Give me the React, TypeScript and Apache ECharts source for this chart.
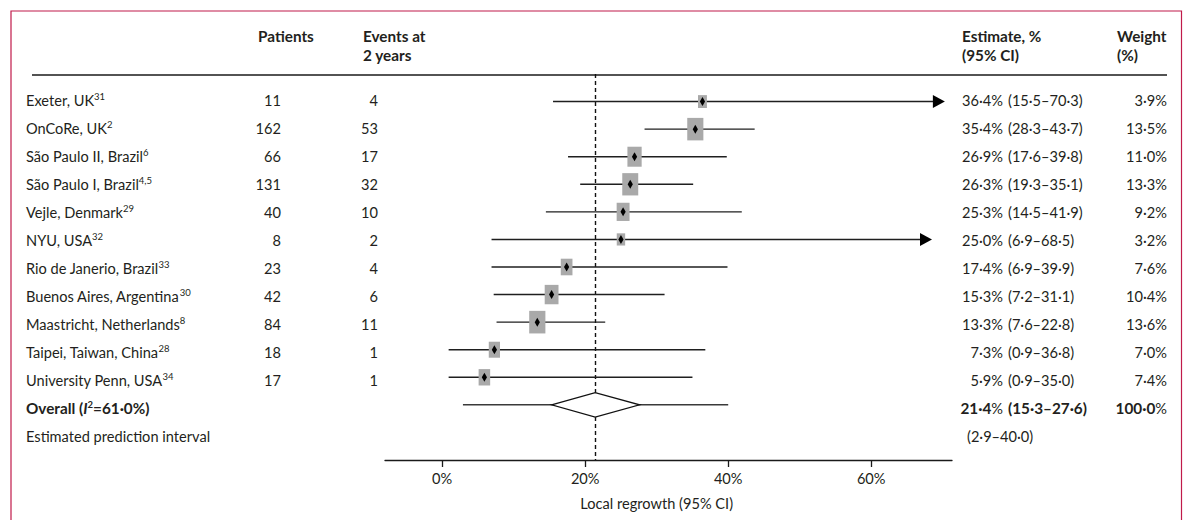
import React, { useEffect, useRef } from "react";
import * as echarts from "echarts";

// ---------- data ----------
const studies = [
  "Exeter, UK",
  "OnCoRe, UK",
  "São Paulo II, Brazil",
  "São Paulo I, Brazil",
  "Vejle, Denmark",
  "NYU, USA",
  "Rio de Janerio, Brazil",
  "Buenos Aires, Argentina",
  "Maastricht, Netherlands",
  "Taipei, Taiwan, China",
  "University Penn, USA",
];
const refs = ["31", "2", "6", "4,5", "29", "32", "33", "30", "8", "28", "34"];
const patients = [11, 162, 66, 131, 40, 8, 23, 42, 84, 18, 17];
const events = [4, 53, 17, 32, 10, 2, 4, 6, 11, 1, 1];
const estimates = [36.4, 35.4, 26.9, 26.3, 25.3, 25.0, 17.4, 15.3, 13.3, 7.3, 5.9];
const ciLow = [15.5, 28.3, 17.6, 19.3, 14.5, 6.9, 6.9, 7.2, 7.6, 0.9, 0.9];
const ciHigh = [70.3, 43.7, 39.8, 35.1, 41.9, 68.5, 39.9, 31.1, 22.8, 36.8, 35.0];
const weights = [3.9, 13.5, 11.0, 13.3, 9.2, 3.2, 7.6, 10.4, 13.6, 7.0, 7.4];
const truncated = [true, false, false, false, false, true, false, false, false, false, false];
const overall = [21.4, 15.3, 27.6]; // estimate, low, high
const overallWeight = 100.0;
const predictionInterval = [2.9, 40.0];
const iSquared = 61.0;
const xTicks = [0, 20, 40, 60];

// ---------- layout ----------
const W = 1186;
const H = 520;
const FONT = "Lato, 'Open Sans', sans-serif";
const TXT = "#231f20";
const FS = 14.6;
const FSB = 15.3;
const X_MIN = -8;
const X_MAX = 71.3;
const GRID = { left: 385, right: 234, top: 74, bottom: 60 };
const rowY = (i: number) => 100 + 28 * i;
const xPix = (v: number) =>
  GRID.left + ((v - X_MIN) / (X_MAX - X_MIN)) * (W - GRID.left - GRID.right);
const fmt = (v: number) => v.toFixed(1).replace(".", "·");

const RICH: any = {
  n: { fontFamily: FONT, fontSize: FS, lineHeight: 18 },
  b: { fontFamily: FONT, fontSize: FSB, lineHeight: 18, fontWeight: "bold" },
  bi: { fontFamily: FONT, fontSize: FSB, lineHeight: 18, fontWeight: "bold", fontStyle: "italic" },
  s: { fontFamily: FONT, fontSize: 9.5, lineHeight: 12, verticalAlign: "top" },
  bs: { fontFamily: FONT, fontSize: 9.5, lineHeight: 12, verticalAlign: "top", fontWeight: "bold" },
};

function txt(x: number, y: number, text: string, align = "left", bold = false, rich = false) {
  const style: any = {
    text,
    x: 0,
    y: 0,
    fill: TXT,
    fontFamily: FONT,
    fontSize: bold ? FSB : FS,
    fontWeight: bold ? "bold" : "normal",
    align,
    verticalAlign: "middle",
  };
  if (rich) style.rich = RICH;
  return { type: "text", x, y, silent: true, z: 10, style };
}

function buildGraphics() {
  const g: any[] = [];
  // frame
  g.push({
    type: "polyline",
    silent: true,
    shape: { points: [[11, H], [11, 11], [1181.5, 11], [1181.5, H]] },
    style: { stroke: "#c01a4a", lineWidth: 1.2, fill: "none" },
  });
  // header rule
  g.push({
    type: "line",
    silent: true,
    shape: { x1: 32, y1: 75, x2: 1167, y2: 75 },
    style: { stroke: "#1a1a1a", lineWidth: 1.3 },
  });
  // headers
  g.push(txt(258, 36, "Patients", "left", true));
  g.push(txt(363, 36, "Events at", "left", true));
  g.push(txt(363, 55, "2 years", "left", true));
  g.push(txt(962, 36, "Estimate, %", "left", true));
  g.push(txt(962, 55, "(95% CI)", "left", true));
  g.push(txt(1117, 36, "Weight", "left", true));
  g.push(txt(1117, 55, "(%)", "left", true));
  // study rows
  studies.forEach((s, i) => {
    const y = rowY(i);
    g.push(txt(26, y, `{n|${s}}{s|${refs[i]}}`, "left", false, true));
    g.push(txt(281, y, String(patients[i]), "right"));
    g.push(txt(378, y, String(events[i]), "right"));
    g.push(txt(1003, y, `${fmt(estimates[i])}%`, "right"));
    g.push(txt(1008, y, `(${fmt(ciLow[i])}–${fmt(ciHigh[i])})`, "left"));
    g.push(txt(1167, y, `${fmt(weights[i])}%`, "right"));
  });
  // overall
  const yo = rowY(studies.length);
  g.push(txt(26, yo, `{b|Overall (}{bi|I}{bs|2}{b|=${fmt(iSquared)}%)}`, "left", true, true));
  g.push(txt(1003, yo, `{b|${fmt(overall[0])}}{n|%}`, "right", true, true));
  g.push(txt(1008, yo, `(${fmt(overall[1])}–${fmt(overall[2])})`, "left", true));
  g.push(txt(1167, yo, `{b|${fmt(overallWeight)}}{n|%}`, "right", true, true));
  // prediction interval
  const yp = rowY(studies.length + 1);
  g.push(txt(26, yp, "Estimated prediction interval", "left"));
  g.push(txt(967, yp, `(${fmt(predictionInterval[0])}–${fmt(predictionInterval[1])})`, "left"));
  // axis title
  g.push(txt(xPix(30), 503, "Local regrowth (95% CI)", "center"));
  return g;
}

function buildOption(): any {
  const studyData = studies.map((_, i) => [
    ciLow[i],
    estimates[i],
    ciHigh[i],
    i,
    weights[i],
    truncated[i] ? 1 : 0,
  ]);
  const overallData = [
    [overall[1], overall[0], overall[2], studies.length, predictionInterval[0], predictionInterval[1]],
  ];
  return {
    animation: false,
    backgroundColor: "#ffffff",
    grid: { ...GRID, containLabel: false },
    xAxis: {
      type: "value",
      min: X_MIN,
      max: X_MAX,
      splitLine: { show: false },
      axisLine: { show: true, onZero: false, lineStyle: { color: "#1a1a1a", width: 1.3 } },
      axisTick: {
        show: true,
        length: 7,
        customValues: xTicks,
        lineStyle: { color: "#1a1a1a", width: 1.3 },
      },
      axisLabel: {
        customValues: xTicks,
        formatter: (v: number) => `${v}%`,
        margin: 11,
        fontFamily: FONT,
        fontSize: FS,
        color: TXT,
      },
    },
    yAxis: { type: "value", inverse: true, min: -1, max: 13, show: false },
    series: [
      {
        type: "custom",
        coordinateSystem: "cartesian2d",
        z: 3,
        silent: true,
        data: studyData,
        renderItem: (_params: any, api: any) => {
          const row = api.value(3);
          const lo = api.coord([api.value(0), row]);
          const est = api.coord([api.value(1), row]);
          const hi = api.coord([api.value(2), row]);
          const w = api.value(4);
          const arrow = api.value(5) === 1;
          const bw = 6 + 0.75 * w;
          const bh = 9 + w;
          const children: any[] = [
            {
              type: "line",
              shape: { x1: lo[0], y1: lo[1], x2: hi[0] - (arrow ? 8 : 0), y2: hi[1] },
              style: { stroke: "#1f1f1f", lineWidth: 1.4 },
            },
            {
              type: "rect",
              shape: { x: est[0] - bw / 2, y: est[1] - bh / 2, width: bw, height: bh },
              style: { fill: "#a9a9a9" },
            },
            {
              type: "polygon",
              shape: {
                points: [
                  [est[0], est[1] - 4.5],
                  [est[0] + 2.6, est[1]],
                  [est[0], est[1] + 4.5],
                  [est[0] - 2.6, est[1]],
                ],
              },
              style: { fill: "#000" },
            },
          ];
          if (arrow) {
            children.push({
              type: "polygon",
              shape: {
                points: [
                  [hi[0], hi[1]],
                  [hi[0] - 12, hi[1] - 6.5],
                  [hi[0] - 12, hi[1] + 6.5],
                ],
              },
              style: { fill: "#000" },
            });
          }
          return { type: "group", children };
        },
      },
      {
        type: "custom",
        coordinateSystem: "cartesian2d",
        z: 3,
        silent: true,
        data: overallData,
        renderItem: (_params: any, api: any) => {
          const row = api.value(3);
          const lo = api.coord([api.value(0), row]);
          const est = api.coord([api.value(1), row]);
          const hi = api.coord([api.value(2), row]);
          const pl = api.coord([api.value(4), row]);
          const ph = api.coord([api.value(5), row]);
          const half = 12.3;
          return {
            type: "group",
            children: [
              {
                type: "line",
                shape: { x1: pl[0], y1: pl[1], x2: ph[0], y2: ph[1] },
                style: { stroke: "#3a3a3a", lineWidth: 1.5 },
              },
              {
                type: "polygon",
                shape: {
                  points: [
                    [lo[0], lo[1]],
                    [est[0], est[1] - half],
                    [hi[0], hi[1]],
                    [est[0], est[1] + half],
                  ],
                },
                style: { fill: "#ffffff", stroke: "#111", lineWidth: 1.3 },
              },
            ],
          };
        },
        markLine: {
          silent: true,
          z: 1,
          symbol: "none",
          label: { show: false },
          lineStyle: { color: "#111", width: 1.4, type: [4, 3] },
          data: [{ xAxis: overall[0] }],
        },
      },
    ],
    graphic: buildGraphics(),
  };
}

export default function App() {
  const ref = useRef<HTMLDivElement>(null);
  useEffect(() => {
    if (!ref.current) return;
    const chart = echarts.init(ref.current, undefined, { renderer: "svg" });
    chart.setOption(buildOption());
    return () => chart.dispose();
  }, []);
  return (
    <div
      ref={ref}
      style={{ position: "fixed", left: 0, top: 0, width: W, height: H, background: "#fff" }}
    />
  );
}
